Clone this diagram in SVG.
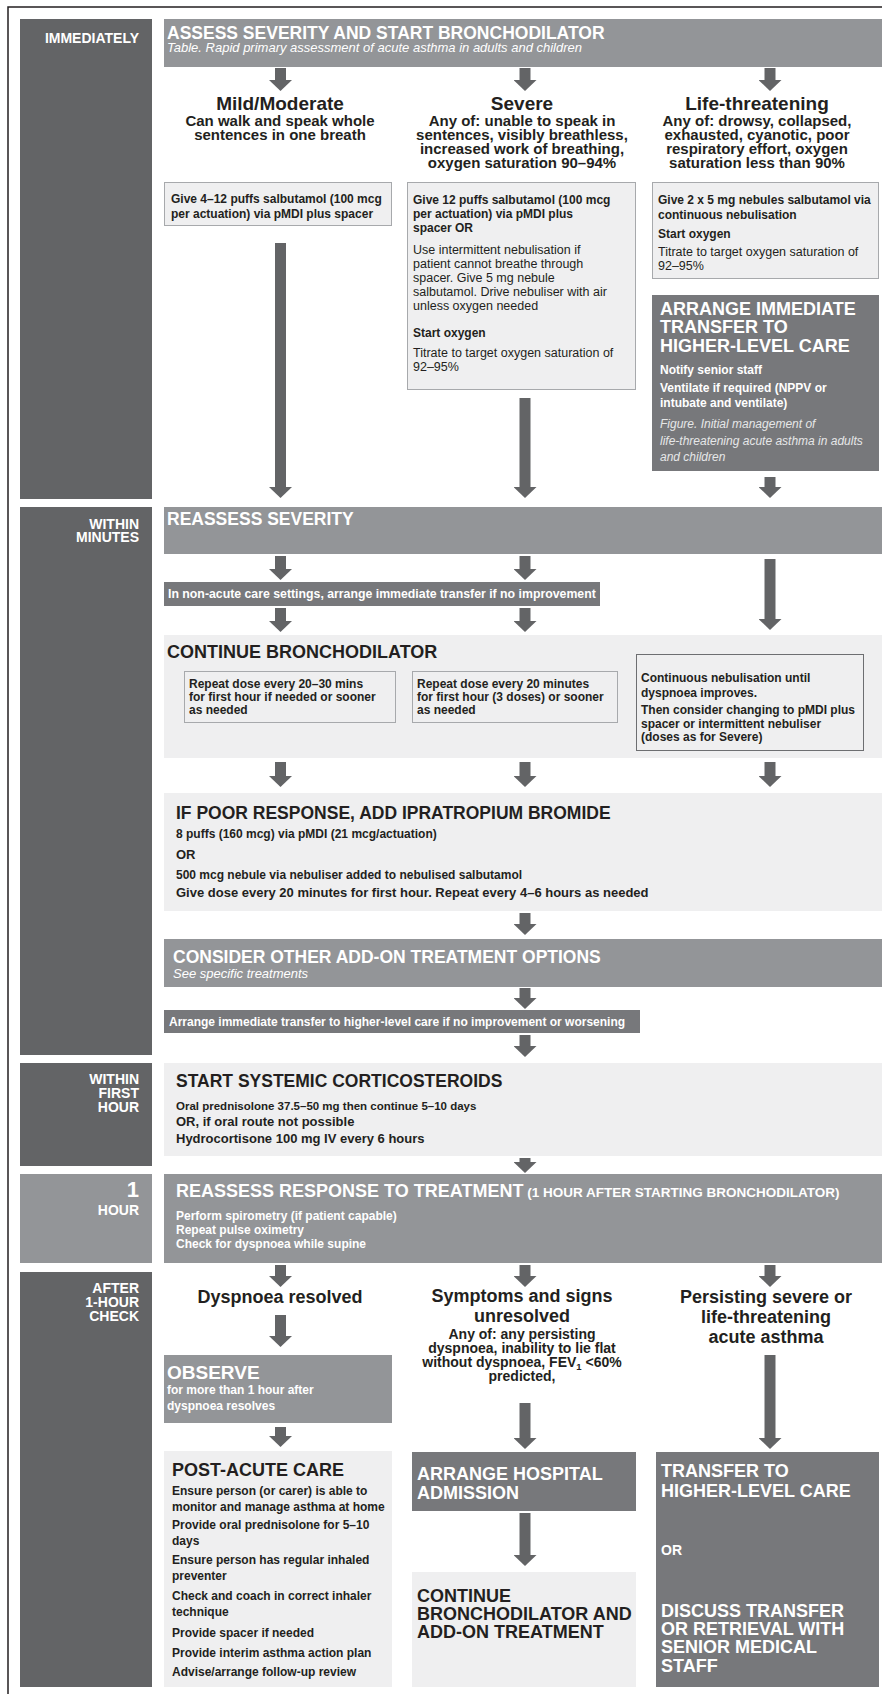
<svg xmlns="http://www.w3.org/2000/svg" width="882" height="1694" viewBox="0 0 882 1694">
<style>
  text { font-family: "Liberation Sans", Arial, Helvetica, sans-serif; }
  .sb { fill: #636466; }
  .hd { fill: #939598; }
  .dk { fill: #77787b; }
  .lt { fill: #efeff0; }
  .bx { fill: #efeff0; stroke: #a7a9ac; stroke-width: 1; }
  .bx2 { fill: #efeff0; stroke: #6d6e71; stroke-width: 1; }
  .w { fill: #ffffff; }
  .k { fill: #231f20; }
  .g { fill: #e6e7e8; }
  .b { font-weight: bold; }
  .i { font-style: italic; }
  .side { font-weight: bold; font-size: 14px; fill: #ffffff; text-anchor: end; }
  .h17 { font-weight: bold; font-size: 17.5px; }
  .h18 { font-weight: bold; font-size: 18px; }
  .h19 { font-weight: bold; font-size: 19px; }
  .d15 { font-weight: bold; font-size: 15px; }
  .d14 { font-weight: bold; font-size: 14px; }
  .s11 { font-size: 11.5px; }
  .s12 { font-size: 12px; }
  .s125 { font-size: 12.5px; }
  .s13 { font-size: 13px; }
  .mid { text-anchor: middle; }
  .conn { stroke: #636466; stroke-width: 11; fill: none; }
</style>
<defs>
  <marker id="head" viewBox="0 -11.5 11 23" refX="0" refY="0" markerWidth="11" markerHeight="23" markerUnits="userSpaceOnUse" orient="auto">
    <path d="M0,-11.5 L11,0 L0,11.5 Z" fill="#636466"/>
  </marker>
</defs>

<!-- outer frame (left and top rules) -->
<path d="M8,1694 V7 H882" fill="none" stroke="#231f20" stroke-width="1.5"/>

<!-- ============ IMMEDIATELY ============ -->
<g id="side-immediately">
  <rect class="sb" x="20" y="19" width="132" height="480"/>
  <text class="side" x="139" y="43">IMMEDIATELY</text>
</g>
<g id="assess-severity">
  <rect class="hd" x="164" y="19" width="718" height="48"/>
  <text class="h17 w" x="167" y="39">ASSESS SEVERITY AND START BRONCHODILATOR</text>
  <text class="i s13 w" x="167" y="52">Table. Rapid primary assessment of acute asthma in adults and children</text>
</g>
<g id="mild-heading">
  <text class="h19 k mid" x="280" y="110">Mild/Moderate</text>
  <text class="d15 k mid" x="280" y="126">Can walk and speak whole</text>
  <text class="d15 k mid" x="280" y="140">sentences in one breath</text>
</g>
<g id="severe-heading">
  <text class="h19 k mid" x="522" y="110">Severe</text>
  <text class="d15 k mid" x="522" y="126">Any of: unable to speak in</text>
  <text class="d15 k mid" x="522" y="140">sentences, visibly breathless,</text>
  <text class="d15 k mid" x="522" y="154">increased work of breathing,</text>
  <text class="d15 k mid" x="522" y="168">oxygen saturation 90–94%</text>
</g>
<g id="life-heading">
  <text class="h19 k mid" x="757" y="110">Life-threatening</text>
  <text class="d15 k mid" x="757" y="126">Any of: drowsy, collapsed,</text>
  <text class="d15 k mid" x="757" y="140">exhausted, cyanotic, poor</text>
  <text class="d15 k mid" x="757" y="154">respiratory effort, oxygen</text>
  <text class="d15 k mid" x="757" y="168">saturation less than 90%</text>
</g>
<g id="mild-box">
  <rect class="bx" x="164.5" y="182.5" width="227" height="43"/>
  <text class="b s12 k" x="171" y="203">Give 4–12 puffs salbutamol (100 mcg</text>
  <text class="b s12 k" x="171" y="218">per actuation) via pMDI plus spacer</text>
</g>
<g id="severe-box">
  <rect class="bx" x="407.5" y="182.5" width="228" height="207"/>
  <text class="b s12 k" x="413" y="204">Give 12 puffs salbutamol (100 mcg</text>
  <text class="b s12 k" x="413" y="218">per actuation) via pMDI plus</text>
  <text class="b s12 k" x="413" y="232">spacer OR</text>
  <text class="s125 k" x="413" y="254">Use intermittent nebulisation if</text>
  <text class="s125 k" x="413" y="268">patient cannot breathe through</text>
  <text class="s125 k" x="413" y="282">spacer. Give 5 mg nebule</text>
  <text class="s125 k" x="413" y="296">salbutamol. Drive nebuliser with air</text>
  <text class="s125 k" x="413" y="310">unless oxygen needed</text>
  <text class="b s12 k" x="413" y="337">Start oxygen</text>
  <text class="s125 k" x="413" y="357">Titrate to target oxygen saturation of</text>
  <text class="s125 k" x="413" y="371">92–95%</text>
</g>
<g id="life-box">
  <rect class="bx" x="652.5" y="182.5" width="226" height="96"/>
  <text class="b s12 k" x="658" y="204">Give 2 x 5 mg nebules salbutamol via</text>
  <text class="b s12 k" x="658" y="219">continuous nebulisation</text>
  <text class="b s12 k" x="658" y="238">Start oxygen</text>
  <text class="s125 k" x="658" y="256">Titrate to target oxygen saturation of</text>
  <text class="s125 k" x="658" y="270">92–95%</text>
</g>
<g id="arrange-transfer">
  <rect class="dk" x="652" y="295" width="227" height="176"/>
  <text class="h18 w" x="660" y="315">ARRANGE IMMEDIATE</text>
  <text class="h18 w" x="660" y="333">TRANSFER TO</text>
  <text class="h18 w" x="660" y="352">HIGHER-LEVEL CARE</text>
  <text class="b s12 w" x="660" y="374">Notify senior staff</text>
  <text class="b s12 w" x="660" y="392">Ventilate if required (NPPV or</text>
  <text class="b s12 w" x="660" y="407">intubate and ventilate)</text>
  <text class="i s12 g" x="660" y="428">Figure. Initial management of</text>
  <text class="i s12 g" x="660" y="445">life-threatening acute asthma in adults</text>
  <text class="i s12 g" x="660" y="461">and children</text>
</g>

<!-- ============ WITHIN MINUTES ============ -->
<g id="side-minutes">
  <rect class="sb" x="20" y="507" width="132" height="548"/>
  <text class="side" x="139" y="529">WITHIN</text>
  <text class="side" x="139" y="542">MINUTES</text>
</g>
<g id="reassess-severity">
  <rect class="hd" x="164" y="507" width="718" height="47"/>
  <text class="h17 w" x="167" y="525">REASSESS SEVERITY</text>
</g>
<g id="non-acute">
  <rect class="dk" x="164" y="582" width="436" height="24"/>
  <text class="b w" x="168" y="598" style="font-size:12.3px">In non-acute care settings, arrange immediate transfer if no improvement</text>
</g>
<g id="continue-bronchodilator">
  <rect class="lt" x="164" y="635" width="718" height="123"/>
  <text class="h18 k" x="167" y="658">CONTINUE BRONCHODILATOR</text>
  <rect class="bx" x="184.5" y="671.5" width="211" height="51"/>
  <text class="b s12 k" x="189" y="688">Repeat dose every 20–30 mins</text>
  <text class="b s12 k" x="189" y="701">for first hour if needed or sooner</text>
  <text class="b s12 k" x="189" y="714">as needed</text>
  <rect class="bx" x="412.5" y="671.5" width="205" height="51"/>
  <text class="b s12 k" x="417" y="688">Repeat dose every 20 minutes</text>
  <text class="b s12 k" x="417" y="701">for first hour (3 doses) or sooner</text>
  <text class="b s12 k" x="417" y="714">as needed</text>
  <rect class="bx2" x="636.5" y="654.5" width="227" height="96"/>
  <text class="b s12 k" x="641" y="682">Continuous nebulisation until</text>
  <text class="b s12 k" x="641" y="697">dyspnoea improves.</text>
  <text class="b s12 k" x="641" y="714">Then consider changing to pMDI plus</text>
  <text class="b s12 k" x="641" y="728">spacer or intermittent nebuliser</text>
  <text class="b s12 k" x="641" y="741">(doses as for Severe)</text>
</g>
<g id="ipratropium">
  <rect class="lt" x="164" y="793" width="718" height="118"/>
  <text class="h17 k" x="176" y="819">IF POOR RESPONSE, ADD IPRATROPIUM BROMIDE</text>
  <text class="b s12 k" x="176" y="838">8 puffs (160 mcg) via pMDI (21 mcg/actuation)</text>
  <text class="b s13 k" x="176" y="859">OR</text>
  <text class="b s12 k" x="176" y="879">500 mcg nebule via nebuliser added to nebulised salbutamol</text>
  <text class="b s13 k" x="176" y="897">Give dose every 20 minutes for first hour. Repeat every 4–6 hours as needed</text>
</g>
<g id="add-on-options">
  <rect class="hd" x="164" y="939" width="718" height="48"/>
  <text class="h17 w" x="173" y="963">CONSIDER OTHER ADD-ON TREATMENT OPTIONS</text>
  <text class="i s13 w" x="173" y="978">See specific treatments</text>
</g>
<g id="transfer-if-worse">
  <rect class="dk" x="164" y="1010" width="476" height="23"/>
  <text class="b s12 w" x="169" y="1026">Arrange immediate transfer to higher-level care if no improvement or worsening</text>
</g>

<!-- ============ WITHIN FIRST HOUR ============ -->
<g id="side-first-hour">
  <rect class="sb" x="20" y="1063" width="132" height="103"/>
  <text class="side" x="139" y="1084">WITHIN</text>
  <text class="side" x="139" y="1098">FIRST</text>
  <text class="side" x="139" y="1112">HOUR</text>
</g>
<g id="corticosteroids">
  <rect class="lt" x="164" y="1063" width="718" height="93"/>
  <text class="h17 k" x="176" y="1087">START SYSTEMIC CORTICOSTEROIDS</text>
  <text class="b s11 k" x="176" y="1110">Oral prednisolone 37.5–50 mg then continue 5–10 days</text>
  <text class="b s13 k" x="176" y="1126">OR, if oral route not possible</text>
  <text class="b s13 k" x="176" y="1143">Hydrocortisone 100 mg IV every 6 hours</text>
</g>

<!-- ============ 1 HOUR ============ -->
<g id="side-one-hour">
  <rect class="hd" x="20" y="1174" width="132" height="89"/>
  <text class="side" x="139" y="1197" style="font-size:22px">1</text>
  <text class="side" x="139" y="1215">HOUR</text>
</g>
<g id="reassess-response">
  <rect class="hd" x="164" y="1174" width="718" height="89"/>
  <text class="h18 w" x="176" y="1197">REASSESS RESPONSE TO TREATMENT<tspan style="font-size:13.5px"> (1 HOUR AFTER STARTING BRONCHODILATOR)</tspan></text>
  <text class="b s12 w" x="176" y="1220">Perform spirometry (if patient capable)</text>
  <text class="b s12 w" x="176" y="1234">Repeat pulse oximetry</text>
  <text class="b s12 w" x="176" y="1248">Check for dyspnoea while supine</text>
</g>

<!-- ============ AFTER 1-HOUR CHECK ============ -->
<g id="side-after">
  <rect class="sb" x="20" y="1272" width="132" height="415"/>
  <text class="side" x="139" y="1293">AFTER</text>
  <text class="side" x="139" y="1307">1-HOUR</text>
  <text class="side" x="139" y="1321">CHECK</text>
</g>
<g id="resolved-heading">
  <text class="h18 k mid" x="280" y="1303">Dyspnoea resolved</text>
</g>
<g id="unresolved-heading">
  <text class="h18 k mid" x="522" y="1302">Symptoms and signs</text>
  <text class="h18 k mid" x="522" y="1322">unresolved</text>
  <text class="d14 k mid" x="522" y="1339">Any of: any persisting</text>
  <text class="d14 k mid" x="522" y="1353">dyspnoea, inability to lie flat</text>
  <text class="d14 k mid" x="522" y="1367">without dyspnoea, FEV<tspan style="font-size:9.5px" dy="3">1</tspan><tspan dy="-3"> &lt;60%</tspan></text>
  <text class="d14 k mid" x="522" y="1381">predicted,</text>
</g>
<g id="persisting-heading">
  <text class="h18 k mid" x="766" y="1303">Persisting severe or</text>
  <text class="h18 k mid" x="766" y="1323">life-threatening</text>
  <text class="h18 k mid" x="766" y="1343">acute asthma</text>
</g>
<g id="observe">
  <rect class="hd" x="164" y="1355" width="228" height="68"/>
  <text class="h19 w" x="167" y="1379">OBSERVE</text>
  <text class="b s12 w" x="167" y="1394">for more than 1 hour after</text>
  <text class="b s12 w" x="167" y="1410">dyspnoea resolves</text>
</g>
<g id="post-acute">
  <rect class="lt" x="164" y="1451" width="228" height="236"/>
  <text class="h18 k" x="172" y="1476">POST-ACUTE CARE</text>
  <text class="b s12 k" x="172" y="1495">Ensure person (or carer) is able to</text>
  <text class="b s12 k" x="172" y="1511">monitor and manage asthma at home</text>
  <text class="b s12 k" x="172" y="1529">Provide oral prednisolone for 5–10</text>
  <text class="b s12 k" x="172" y="1545">days</text>
  <text class="b s12 k" x="172" y="1564">Ensure person has regular inhaled</text>
  <text class="b s12 k" x="172" y="1580">preventer</text>
  <text class="b s12 k" x="172" y="1600">Check and coach in correct inhaler</text>
  <text class="b s12 k" x="172" y="1616">technique</text>
  <text class="b s12 k" x="172" y="1637">Provide spacer if needed</text>
  <text class="b s12 k" x="172" y="1657">Provide interim asthma action plan</text>
  <text class="b s12 k" x="172" y="1676">Advise/arrange follow-up review</text>
</g>
<g id="hospital-admission">
  <rect class="dk" x="412" y="1452" width="224" height="59"/>
  <text class="h18 w" x="417" y="1480">ARRANGE HOSPITAL</text>
  <text class="h18 w" x="417" y="1499">ADMISSION</text>
</g>
<g id="continue-addon">
  <rect class="lt" x="412" y="1572" width="224" height="115"/>
  <text class="h18 k" x="417" y="1602">CONTINUE</text>
  <text class="h18 k" x="417" y="1620">BRONCHODILATOR AND</text>
  <text class="h18 k" x="417" y="1638">ADD-ON TREATMENT</text>
</g>
<g id="transfer-higher">
  <rect class="dk" x="656" y="1452" width="223" height="235"/>
  <text class="h18 w" x="661" y="1477">TRANSFER TO</text>
  <text class="h18 w" x="661" y="1497">HIGHER-LEVEL CARE</text>
  <text class="b w" x="661" y="1555" style="font-size:14px">OR</text>
  <text class="h18 w" x="661" y="1617">DISCUSS TRANSFER</text>
  <text class="h18 w" x="661" y="1635">OR RETRIEVAL WITH</text>
  <text class="h18 w" x="661" y="1653">SENIOR MEDICAL</text>
  <text class="h18 w" x="661" y="1672">STAFF</text>
</g>

<!-- ============ connectors ============ -->
<g id="connectors" class="conn" marker-end="url(#head)">
  <line x1="280.5" y1="68" x2="280.5" y2="80"/>
  <line x1="525" y1="68" x2="525" y2="80"/>
  <line x1="770" y1="68" x2="770" y2="80"/>
  <line x1="280.5" y1="243" x2="280.5" y2="487"/>
  <line x1="525" y1="398" x2="525" y2="487"/>
  <line x1="770" y1="477" x2="770" y2="487"/>
  <line x1="280.5" y1="556" x2="280.5" y2="569"/>
  <line x1="525" y1="556" x2="525" y2="569"/>
  <line x1="770" y1="559" x2="770" y2="619"/>
  <line x1="280.5" y1="608" x2="280.5" y2="621"/>
  <line x1="525" y1="608" x2="525" y2="621"/>
  <line x1="280.5" y1="762" x2="280.5" y2="776"/>
  <line x1="525" y1="762" x2="525" y2="776"/>
  <line x1="770" y1="762" x2="770" y2="776"/>
  <line x1="525" y1="913" x2="525" y2="924"/>
  <line x1="525" y1="988" x2="525" y2="998"/>
  <line x1="525" y1="1035" x2="525" y2="1046"/>
  <line x1="525" y1="1158" x2="525" y2="1162"/>
  <line x1="280.5" y1="1265" x2="280.5" y2="1276"/>
  <line x1="525" y1="1265" x2="525" y2="1276"/>
  <line x1="770" y1="1265" x2="770" y2="1276"/>
  <line x1="280.5" y1="1315" x2="280.5" y2="1336"/>
  <line x1="525" y1="1403" x2="525" y2="1438"/>
  <line x1="770" y1="1355" x2="770" y2="1438"/>
  <line x1="280.5" y1="1427" x2="280.5" y2="1436"/>
  <line x1="525" y1="1513" x2="525" y2="1555"/>
</g>
</svg>
